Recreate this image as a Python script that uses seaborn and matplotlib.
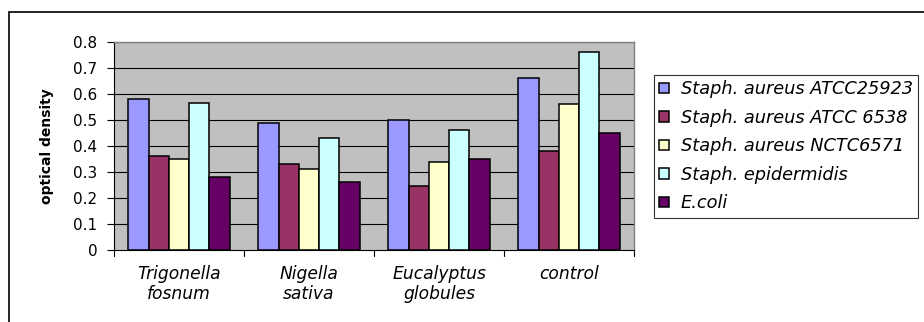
import matplotlib
matplotlib.use("Agg")
import matplotlib.pyplot as plt
import seaborn as sns
import pandas as pd
from matplotlib.patches import Rectangle

categories = ["Trigonella\nfosnum", "Nigella\nsativa", "Eucalyptus\nglobules", "control"]
series = ["Staph. aureus ATCC25923", "Staph. aureus ATCC 6538",
          "Staph. aureus NCTC6571", "Staph. epidermidis", "E.coli"]
atcc25923 = [0.58, 0.49, 0.50, 0.66]
atcc6538 = [0.36, 0.33, 0.245, 0.38]
nctc6571 = [0.35, 0.31, 0.34, 0.56]
epidermidis = [0.565, 0.43, 0.46, 0.76]
ecoli = [0.28, 0.26, 0.35, 0.45]
colors = ["#9999FF", "#993366", "#FFFFCC", "#CCFFFF", "#660066"]
yticks = [0, 0.1, 0.2, 0.3, 0.4, 0.5, 0.6, 0.7, 0.8]
yticklabels = ["0", "0.1", "0.2", "0.3", "0.4", "0.5", "0.6", "0.7", "0.8"]

values = [atcc25923, atcc6538, nctc6571, epidermidis, ecoli]
rows = []
for s, vals in zip(series, values):
    for c, v in zip(categories, vals):
        rows.append({"category": c, "series": s, "value": v})
df = pd.DataFrame(rows)

sns.set_style("white")
plt.rcParams["font.family"] = ["DejaVu Sans"]
plt.rcParams["text.color"] = "black"
plt.rcParams["axes.labelcolor"] = "black"
plt.rcParams["xtick.color"] = "black"
plt.rcParams["ytick.color"] = "black"

W, H = 924, 322
fig = plt.figure(figsize=(W / 100, H / 100), dpi=100)
ax = fig.add_axes([114 / W, (H - 250) / H, 520 / W, 208 / H])
ax.set_facecolor("#C0C0C0")

sns.barplot(data=df, x="category", y="value", hue="series", hue_order=series,
            order=categories, palette=colors, width=0.78, edgecolor="black",
            linewidth=1.1, saturation=1, ax=ax, zorder=3)

ax.set_ylim(0, 0.8)
ax.set_xlim(-0.5, 3.5)
ax.set_yticks(yticks)
ax.set_yticklabels(yticklabels, fontsize=11)
for t in yticks[1:]:
    ax.axhline(t, color="black", linewidth=0.8, zorder=1)
ax.set_xticks(range(len(categories)))
ax.set_xticklabels(categories, fontsize=12.3, style="italic", linespacing=1.15)
ax.tick_params(axis="x", length=0, pad=11)
for xb in [-0.5, 0.5, 1.5, 2.5, 3.5]:
    ax.plot([xb, xb], [0, -0.022], color="black", lw=0.8, clip_on=False)
ax.tick_params(axis="y", length=5, width=0.8, direction="out", left=True, pad=7)
for side in ["top", "right"]:
    ax.spines[side].set_color("#808080")
    ax.spines[side].set_linewidth(1)
for side in ["left", "bottom"]:
    ax.spines[side].set_color("black")
    ax.spines[side].set_linewidth(0.8)
ax.set_xlabel("")
ax.set_ylabel("optical density", fontsize=10, fontweight="bold")
ax.yaxis.set_label_coords(-0.115, 0.5)

handles, labels = ax.get_legend_handles_labels()
if ax.legend_:
    ax.legend_.remove()
leg = fig.legend(handles, labels, loc="upper left",
                 bbox_to_anchor=(654 / W, (H - 75) / H),
                 prop={"style": "italic", "size": 12.8},
                 frameon=True, fancybox=False, edgecolor="black",
                 handlelength=0.55, handleheight=0.5, handletextpad=0.65,
                 labelspacing=0.59, borderpad=0.3, borderaxespad=0)
leg.get_frame().set_linewidth(0.8)

fig.patches.append(Rectangle((9 / W, -0.1), 2, 1.1 - 12 / H,
                             transform=fig.transFigure, fill=False,
                             edgecolor="black", linewidth=1.2))

fig.savefig("out.png", dpi=100)
